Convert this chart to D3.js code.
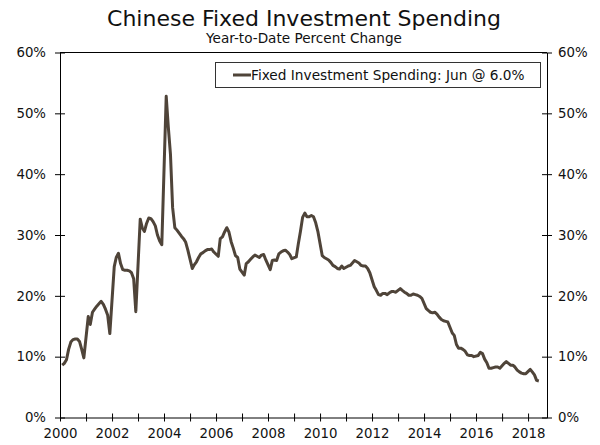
<!DOCTYPE html>
<html>
<head>
<meta charset="utf-8">
<script src="https://cdn.jsdelivr.net/npm/d3@7"></script>
<style>
  body { margin: 0; background: #fff; }
  svg { display: block; font-family: "DejaVu Sans", Verdana, sans-serif; }
  .axis path, .axis line { stroke: #000; }
  .axis text { font-size: 13.3px; fill: #111; font-family: "DejaVu Sans", Verdana, sans-serif; }
</style>
</head>
<body>
<svg id="chart" width="600" height="445"></svg>
<script>
// YTD % change, Feb..Dec each year (January is not reported)
const fai2000 = [8.6, 8.9, 9.5, 11.2, 12.4, 12.8, 12.9, 12.9, 12.5, 11.2, 9.8];
const fai2001 = [16.6, 15.3, 17.3, 17.8, 18.3, 18.7, 19.1, 18.6, 17.8, 16.8, 13.8];
const fai2002 = [24.8, 26.3, 27.0, 25.3, 24.3, 24.2, 24.2, 24.1, 23.8, 22.8, 17.4];
const fai2003 = [32.6, 31.2, 30.6, 31.9, 32.8, 32.7, 32.2, 31.5, 30.0, 29.0, 28.4];
const fai2004 = [52.8, 47.8, 43.2, 34.5, 31.2, 30.8, 30.3, 29.8, 29.4, 28.8, 27.5];
const fai2005 = [24.5, 25.1, 25.6, 26.3, 26.9, 27.1, 27.4, 27.6, 27.6, 27.7, 27.2];
const fai2006 = [26.5, 29.4, 29.7, 30.5, 31.2, 30.5, 28.9, 27.8, 26.6, 26.3, 24.4];
const fai2007 = [23.4, 25.3, 25.6, 26.0, 26.4, 26.7, 26.5, 26.3, 26.7, 26.8, 25.9];
const fai2008 = [24.3, 25.8, 25.9, 25.8, 26.9, 27.2, 27.4, 27.5, 27.2, 26.8, 26.1];
const fai2009 = [26.4, 28.5, 30.6, 32.9, 33.6, 33.0, 33.0, 33.2, 33.0, 32.0, 30.6];
const fai2010 = [26.6, 26.3, 26.1, 25.9, 25.5, 25.0, 24.8, 24.5, 24.4, 24.9, 24.5];
const fai2011 = [24.9, 25.0, 25.4, 25.8, 25.6, 25.4, 25.0, 24.9, 24.9, 24.5, 23.8];
const fai2012 = [21.5, 20.9, 20.2, 20.1, 20.4, 20.4, 20.2, 20.5, 20.7, 20.7, 20.6];
const fai2013 = [21.2, 20.9, 20.6, 20.4, 20.1, 20.1, 20.3, 20.2, 20.1, 19.9, 19.6];
const fai2014 = [17.9, 17.6, 17.3, 17.2, 17.3, 17.0, 16.5, 16.1, 15.9, 15.8, 15.7];
const fai2015 = [13.9, 13.5, 12.0, 11.4, 11.4, 11.2, 10.9, 10.3, 10.2, 10.2, 10.0];
const fai2016 = [10.2, 10.7, 10.5, 9.6, 9.0, 8.1, 8.1, 8.2, 8.3, 8.3, 8.1];
const fai2017 = [8.9, 9.2, 8.9, 8.6, 8.6, 8.3, 7.8, 7.5, 7.3, 7.2, 7.2];
const fai2018 = [7.9, 7.5, 7.0, 6.1, 6.0];

const years = d3.range(2000, 2019);
const yearSeries = [fai2000, fai2001, fai2002, fai2003, fai2004, fai2005, fai2006,
  fai2007, fai2008, fai2009, fai2010, fai2011, fai2012, fai2013, fai2014,
  fai2015, fai2016, fai2017, fai2018];

const yTicks = [0, 10, 20, 30, 40, 50, 60];
const xLabelYears = [2000, 2002, 2004, 2006, 2008, 2010, 2012, 2014, 2016, 2018];

const title = "Chinese Fixed Investment Spending";
const subtitle = "Year-to-Date Percent Change";
const legendLabel = "Fixed Investment Spending: Jun @ 6.0%";

const data = [];
years.forEach((yr, i) => {
  yearSeries[i].forEach((v, j) => data.push({ date: new Date(yr, j + 1, 1), value: v }));
});

const svg = d3.select("#chart");
const plotLeft = 60, plotRight = 547, plotTop = 52.5, plotBottom = 417.5;
const lineColor = "#4f4439";

const x = d3.scaleTime()
  .domain([new Date(2000, 0, 1), new Date(2018, 8, 24)])
  .range([plotLeft, plotRight]);
const y = d3.scaleLinear().domain([0, 60]).range([plotBottom, plotTop]);

// titles
svg.append("text")
  .attr("x", 304).attr("y", 26)
  .attr("text-anchor", "middle")
  .attr("font-size", 22).attr("fill", "#111")
  .text(title);
svg.append("text")
  .attr("x", 304).attr("y", 43)
  .attr("text-anchor", "middle")
  .attr("font-size", 13.6).attr("fill", "#111")
  .text(subtitle);

// top border
svg.append("line")
  .attr("x1", plotLeft).attr("x2", plotRight)
  .attr("y1", plotTop).attr("y2", plotTop)
  .attr("stroke", "#000");

// axes, ticks cross the axis line
const xAxis = d3.axisBottom(x)
  .ticks(d3.timeYear.every(1))
  .tickSizeInner(5).tickSizeOuter(0).tickPadding(6)
  .tickFormat(d => xLabelYears.includes(d.getFullYear()) ? d.getFullYear() : "");
const gx = svg.append("g").attr("class", "axis")
  .attr("transform", `translate(0,${plotBottom})`).call(xAxis);
gx.selectAll(".tick line").attr("y1", -4).attr("y2", 4);

const yLeft = d3.axisLeft(y).tickValues(yTicks)
  .tickSizeInner(5).tickSizeOuter(0).tickPadding(9)
  .tickFormat(d => d + "%");
const gl = svg.append("g").attr("class", "axis")
  .attr("transform", `translate(${plotLeft},0)`).call(yLeft);
gl.selectAll(".tick line").attr("x1", -5).attr("x2", 5);

const yRight = d3.axisRight(y).tickValues(yTicks)
  .tickSizeInner(5).tickSizeOuter(0).tickPadding(6)
  .tickFormat(d => d + "%");
const gr = svg.append("g").attr("class", "axis")
  .attr("transform", `translate(${plotRight},0)`).call(yRight);
gr.selectAll(".tick line").attr("x1", -5).attr("x2", 5);

// series line
const line = d3.line()
  .x(d => x(d.date))
  .y(d => y(d.value));
svg.append("path")
  .datum(data)
  .attr("fill", "none")
  .attr("stroke", lineColor)
  .attr("stroke-width", 3)
  .attr("stroke-linejoin", "round")
  .attr("d", line);

// legend
const legend = svg.append("g");
legend.append("rect")
  .attr("x", 215.5).attr("y", 62.5)
  .attr("width", 325).attr("height", 25)
  .attr("fill", "#fff").attr("stroke", "#333");
legend.append("line")
  .attr("x1", 233).attr("x2", 251)
  .attr("y1", 75).attr("y2", 75)
  .attr("stroke", lineColor).attr("stroke-width", 3);
legend.append("text")
  .attr("x", 251).attr("y", 79.5)
  .attr("font-size", 13.7).attr("fill", "#111")
  .text(legendLabel);
</script>
</body>
</html>
